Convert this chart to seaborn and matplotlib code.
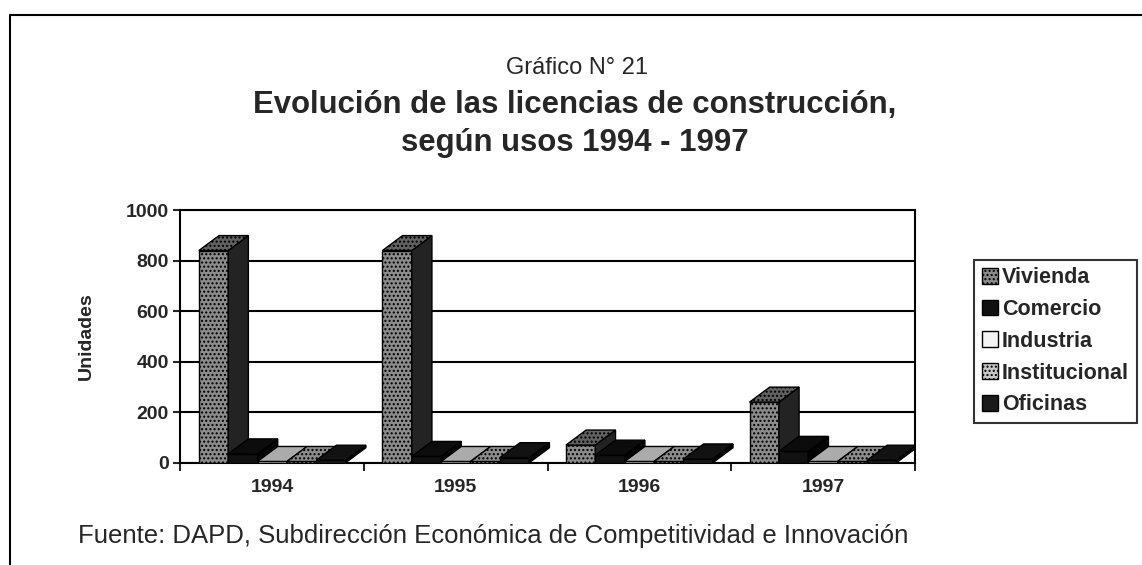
"""
Evolución de las licencias de construcción, según usos 1994 - 1997.
"""

import matplotlib.pyplot as plt
import numpy as np
import pandas as pd
import seaborn as sns
from matplotlib.colors import to_rgb
from matplotlib.lines import Line2D
from matplotlib.patches import Patch, Polygon

years = ["1994", "1995", "1996", "1997"]
usos = ["Vivienda", "Comercio", "Industria", "Institucional", "Oficinas"]

vivienda = [840, 840, 70, 240]
comercio = [35, 25, 30, 45]
industria = [5, 5, 5, 5]
institucional = [5, 5, 5, 5]
oficinas = [10, 20, 15, 10]

colores = ["#8c8c8c", "#111111", "#f4f4f4", "#c8c8c8", "#1a1a1a"]
hatches = ["....", "", "", "....", ""]

values = [vivienda, comercio, industria, institucional, oficinas]
df = pd.DataFrame(
    [(y, u, v[i]) for u, v in zip(usos, values) for i, y in enumerate(years)],
    columns=["year", "uso", "unidades"],
)

sns.set_style("white")
plt.rcParams["font.family"] = ["Liberation Sans", "DejaVu Sans"]
plt.rcParams["hatch.color"] = "#555555"

fig = plt.figure(figsize=(11.42, 5.65), dpi=100)
ax = fig.add_axes([0.158, 0.181, 0.643, 0.447])

sns.barplot(
    data=df,
    x="year",
    y="unidades",
    hue="uso",
    palette=colores,
    edgecolor="black",
    linewidth=1.0,
    width=0.8,
    ax=ax,
    legend=False,
)

ax.set_xlim(-0.5, len(years) - 0.5)
ax.set_ylim(0, 1000)

# fake 3D depth: side and top faces for each bar
n = len(years)
bars = ax.patches[: n * len(usos)]
ax_h_px = ax.get_position().height * fig.get_figheight() * fig.dpi
depth_x = 0.11
depth_y = 1000 * 15 / ax_h_px
order = sorted(range(len(bars)), key=lambda k: bars[k].get_x())
for rank, k in enumerate(order):
    p = bars[k]
    s = k // n
    p.set_hatch(hatches[s])
    x0, w, h = p.get_x(), p.get_width(), p.get_height()
    z = 3 + rank * 0.01
    p.set_zorder(z)
    base = np.array(to_rgb(colores[s]))
    side = Polygon(
        [(x0 + w, 0), (x0 + w + depth_x, depth_y), (x0 + w + depth_x, h + depth_y), (x0 + w, h)],
        closed=True, facecolor=base * 0.25, edgecolor="black", linewidth=1.0, zorder=z,
    )
    top = Polygon(
        [(x0, h), (x0 + depth_x, h + depth_y), (x0 + w + depth_x, h + depth_y), (x0 + w, h)],
        closed=True, facecolor=base * 0.7, edgecolor="black", linewidth=1.0,
        hatch=hatches[s], zorder=z,
    )
    ax.add_patch(side)
    ax.add_patch(top)

ax.set_yticks(range(0, 1001, 200))
ax.set_xticks(np.arange(-0.5, len(years)), minor=True)
ax.yaxis.grid(True, color="black", linewidth=1.5)
ax.set_axisbelow(True)
for side_name in ["left", "right", "top", "bottom"]:
    ax.spines[side_name].set_visible(True)
    ax.spines[side_name].set_color("black")
    ax.spines[side_name].set_linewidth(1.5)

ax.tick_params(axis="y", direction="out", length=5, width=1.5, left=True, labelsize=14)
ax.tick_params(axis="x", which="major", length=0, labelsize=14, pad=12)
ax.tick_params(axis="x", which="minor", direction="out", length=6, width=1.5, bottom=True)
for lbl in ax.get_xticklabels() + ax.get_yticklabels():
    lbl.set_fontweight("bold")

ax.set_xlabel("")
ax.set_ylabel("Unidades", fontsize=14, fontweight="bold", labelpad=22)

# legend
handles = [
    Patch(facecolor=c, edgecolor="black", hatch=h, label=u)
    for c, h, u in zip(colores, hatches, usos)
]
leg = fig.legend(
    handles=handles,
    loc="center left",
    bbox_to_anchor=(0.853, 0.396),
    frameon=True,
    fancybox=False,
    edgecolor="black",
    prop={"weight": "bold", "size": 15.5},
    handlelength=0.75,
    handleheight=0.75,
    handletextpad=0.2,
    labelspacing=0.5,
    borderpad=0.35,
    borderaxespad=0.0,
)
leg.get_frame().set_linewidth(1.5)

# titles
fig.text(0.505, 0.88, "Gráfico N° 21", ha="center", va="center", fontsize=17)
fig.text(
    0.503,
    0.781,
    "Evolución de las licencias de construcción,\nsegún usos 1994 - 1997",
    ha="center",
    va="center",
    fontsize=22.4,
    fontweight="bold",
    linespacing=1.35,
)

fig.text(
    0.795,
    0.051,
    "Fuente: DAPD, Subdirección Económica de Competitividad e Innovación",
    ha="right",
    va="center",
    fontsize=18.5,
)

# page frame
fig.add_artist(Line2D([0.009, 1.0], [0.973, 0.973], color="black", linewidth=1.5))
fig.add_artist(Line2D([0.009, 0.009], [0.0, 0.973], color="black", linewidth=1.5))

fig.savefig("out.png", dpi=100)
plt.close(fig)
